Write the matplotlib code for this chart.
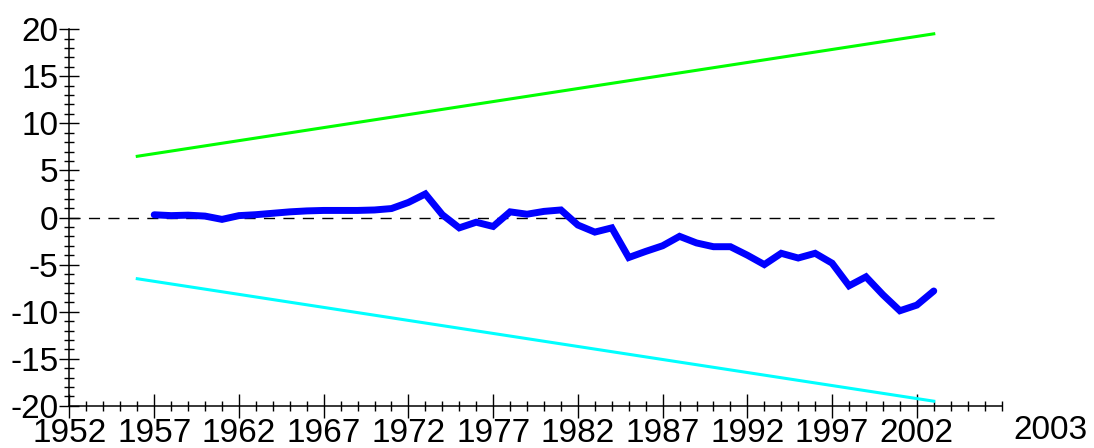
import matplotlib
matplotlib.use("Agg")
import matplotlib.pyplot as plt
from matplotlib.ticker import MultipleLocator

plt.rcParams['font.family'] = ['Liberation Sans', 'DejaVu Sans']
plt.rcParams['axes.unicode_minus'] = False

# datos
anios = list(range(1957, 2004))
cusum = [0.29, 0.2, 0.25, 0.15, -0.2, 0.2, 0.3, 0.45, 0.6, 0.7,
         0.75, 0.75, 0.75, 0.8, 0.95, 1.6, 2.5, 0.3, -1.1, -0.5,
         -0.95, 0.6, 0.35, 0.65, 0.8, -0.8, -1.55, -1.1, -4.25, -3.6,
         -3.0, -2.0, -2.7, -3.1, -3.1, -4.0, -5.0, -3.8, -4.3, -3.8,
         -4.85, -7.25, -6.3, -8.2, -9.9, -9.3, -7.8]
limite_anios = [1956, 2003]
limite_sup = [6.5, 19.5]
limite_inf = [-6.5, -19.5]
etiqueta_x = "2003"

fig = plt.figure(figsize=(10.94, 4.48), dpi=100)
ax = fig.add_axes([0.0635, 0.094, 0.852, 0.841])

ax.axhline(0, color='black', lw=1, ls=(0, (8, 6)))
ax.plot(limite_anios, limite_sup, color='#00ff00', lw=2.2)
ax.plot(limite_anios, limite_inf, color='#00ffff', lw=2.2)
ax.plot(anios, cusum, color='#0000ff', lw=5, solid_joinstyle='miter',
        solid_capstyle='round')

ax.set_xlim(1952, 2007)
ax.set_ylim(-20, 20)
ax.xaxis.set_minor_locator(MultipleLocator(1))
ax.yaxis.set_major_locator(MultipleLocator(5))
ax.yaxis.set_minor_locator(MultipleLocator(1))
ax.set_xticks(range(1952, 2003, 5))

for s in ['top', 'right']:
    ax.spines[s].set_visible(False)
for s in ['left', 'bottom']:
    ax.spines[s].set_linewidth(1.1)

ax.tick_params(which='major', direction='inout', length=14, width=1, labelsize=24, pad=1)
ax.tick_params(axis='x', which='major', length=17, pad=0)
ax.tick_params(which='minor', direction='inout', length=7, width=1)

fig.text(1050 / 1094, 1 - 430 / 448, etiqueta_x, ha='center', va='center', fontsize=24)

fig.savefig('out.png', dpi=100)
